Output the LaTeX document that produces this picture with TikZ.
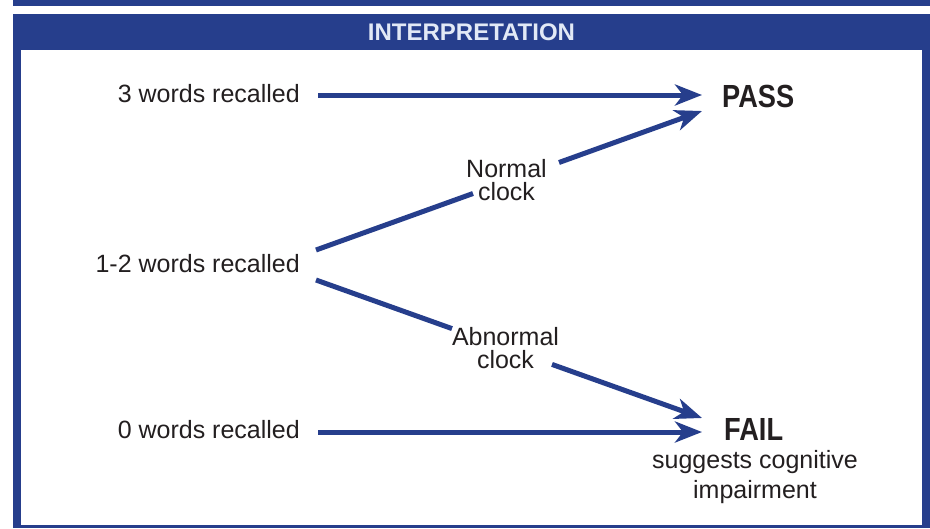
\documentclass[tikz,border=0pt]{standalone}
\usepackage{fontspec}
\setmainfont{Liberation Sans}
\newfontfamily\condbold[FakeStretch=0.85]{Liberation Sans Bold}
\usetikzlibrary{arrows.meta}
\definecolor{frameblue}{RGB}{38,62,140}
\definecolor{ink}{RGB}{35,31,32}
\definecolor{headtext}{RGB}{226,233,246}
\begin{document}
\begin{tikzpicture}[x=1pt,y=-1pt,
  lbl/.style={inner sep=0pt, text=ink, font=\fontsize{25}{30}\selectfont},
  midlbl/.style={inner sep=0pt, text=ink, align=center, font=\fontsize{25}{23}\selectfont},
  notelbl/.style={inner sep=0pt, text=ink, align=center, font=\fontsize{25}{30}\selectfont},
  verdict/.style={inner sep=0pt, text=ink, font=\fontsize{32}{36}\condbold},
  arr/.style={draw=frameblue, line width=5pt, -{Stealth[length=27pt,width=21pt,inset=8pt]}},
  seg/.style={draw=frameblue, line width=5pt}]
\useasboundingbox (0,0) rectangle (930,528);
\fill[white] (0,0) rectangle (930,528);
% frame
\fill[frameblue] (13,0) rectangle (930,6);
\fill[frameblue] (13,14) rectangle (930,528);
\fill[white] (21,50) rectangle (922,525);
\node[anchor=base, inner sep=0pt, text=headtext, font=\fontsize{24}{28}\selectfont\bfseries] (head) at (471.5,40) {INTERPRETATION};
% texts
\node[lbl, anchor=base east] (w3) at (300,102) {3 words recalled};
\node[lbl, anchor=base east] (w12) at (300,272) {1-2 words recalled};
\node[lbl, anchor=base east] (w0) at (300,438) {0 words recalled};
\node[verdict, anchor=base west] (pass) at (722,107) {PASS};
\node[verdict, anchor=base west] (fail) at (724,440) {FAIL};
\node[notelbl, anchor=base] (note) at (755,498) {suggests cognitive\\impairment};
\node[midlbl, anchor=base] (nc) at (506.5,200) {Normal\\clock};
\node[midlbl, anchor=base] (ac) at (505.5,368) {Abnormal\\clock};
% connector coordinates
\coordinate (a3s) at (318,95);
\coordinate (a3e) at (702,95);
\coordinate (ns) at (316,250);
\coordinate (n1) at (473,193.5);
\coordinate (n2) at (559,162.5);
\coordinate (ne) at (702,111);
\coordinate (as) at (316,280);
\coordinate (a1) at (452,328.6);
\coordinate (a2) at (552,364.4);
\coordinate (ae) at (702,418);
\coordinate (a0s) at (318,432);
\coordinate (a0e) at (702,432);
% connectors
\draw[arr] (a3s) -- (a3e);
\draw[seg] (ns) -- (n1);
\draw[arr] (n2) -- (ne);
\draw[seg] (as) -- (a1);
\draw[arr] (a2) -- (ae);
\draw[arr] (a0s) -- (a0e);
\end{tikzpicture}
\end{document}
